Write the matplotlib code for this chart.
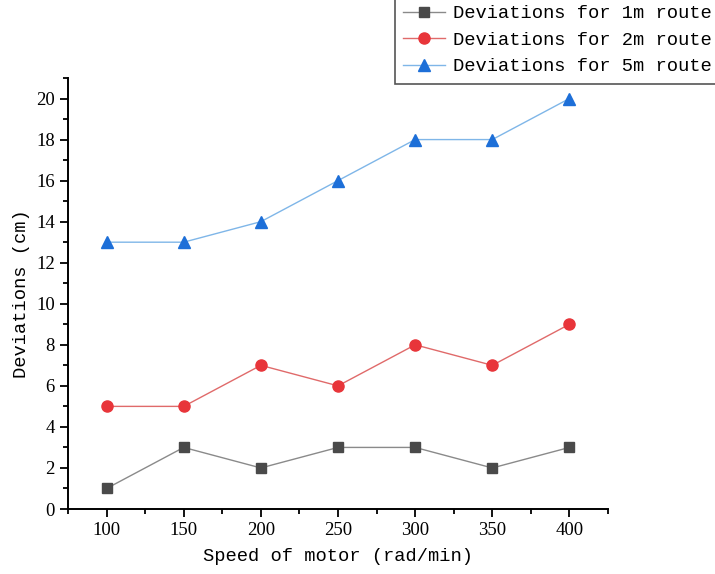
import matplotlib.pyplot as plt
from matplotlib.ticker import MultipleLocator

# Datos
speed = [100, 150, 200, 250, 300, 350, 400]
dev_1m = [1, 3, 2, 3, 3, 2, 3]
dev_2m = [5, 5, 7, 6, 8, 7, 9]
dev_5m = [13, 13, 14, 16, 18, 18, 20]
labels = ['Deviations for 1m route', 'Deviations for 2m route', 'Deviations for 5m route']

mono = 'Liberation Mono'
serif = 'Liberation Serif'

fig = plt.figure(figsize=(7.15, 5.74), dpi=100)
ax = fig.add_axes([68 / 715, 1 - 509 / 574, (608 - 68) / 715, (509 - 78) / 574])

ax.plot(speed, dev_1m, color='#8a8a8a', linewidth=1, marker='s', markersize=7.5,
        markerfacecolor='#4a4a4a', markeredgecolor='#4a4a4a', label=labels[0])
ax.plot(speed, dev_2m, color='#e06a6a', linewidth=1, marker='o', markersize=8,
        markerfacecolor='#e8353a', markeredgecolor='#e8353a', label=labels[1])
ax.plot(speed, dev_5m, color='#7fb6e8', linewidth=1, marker='^', markersize=8.5,
        markerfacecolor='#1d6fd8', markeredgecolor='#1d6fd8', label=labels[2])

ax.set_xlim(75, 425)
ax.set_ylim(0, 21)
ax.xaxis.set_major_locator(MultipleLocator(50))
ax.xaxis.set_minor_locator(MultipleLocator(25))
ax.yaxis.set_major_locator(MultipleLocator(2))
ax.yaxis.set_minor_locator(MultipleLocator(1))
ax.tick_params(which='major', direction='out', length=6, width=1.3, labelsize=13.5)
ax.tick_params(which='minor', direction='out', length=3.5, width=1.3)
for lab in ax.get_xticklabels() + ax.get_yticklabels():
    lab.set_fontfamily(serif)

ax.spines['top'].set_visible(False)
ax.spines['right'].set_visible(False)
ax.spines['left'].set_linewidth(1.4)
ax.spines['bottom'].set_linewidth(1.4)

ax.set_xlabel('Speed of motor (rad/min)', fontsize=13.5, family=mono, labelpad=6)
ax.set_ylabel('Deviations (cm)', fontsize=13.5, family=mono, labelpad=4)

leg = fig.legend(loc='upper left', bbox_to_anchor=(395 / 715, 1.006), fancybox=False,
                 edgecolor='#555555', framealpha=1, prop={'family': mono, 'size': 13.5},
                 handlelength=2.2, handletextpad=0.45, labelspacing=0.5,
                 borderpad=0.45, borderaxespad=0)
leg.get_frame().set_linewidth(1.2)

fig.savefig('out.png', dpi=100)
